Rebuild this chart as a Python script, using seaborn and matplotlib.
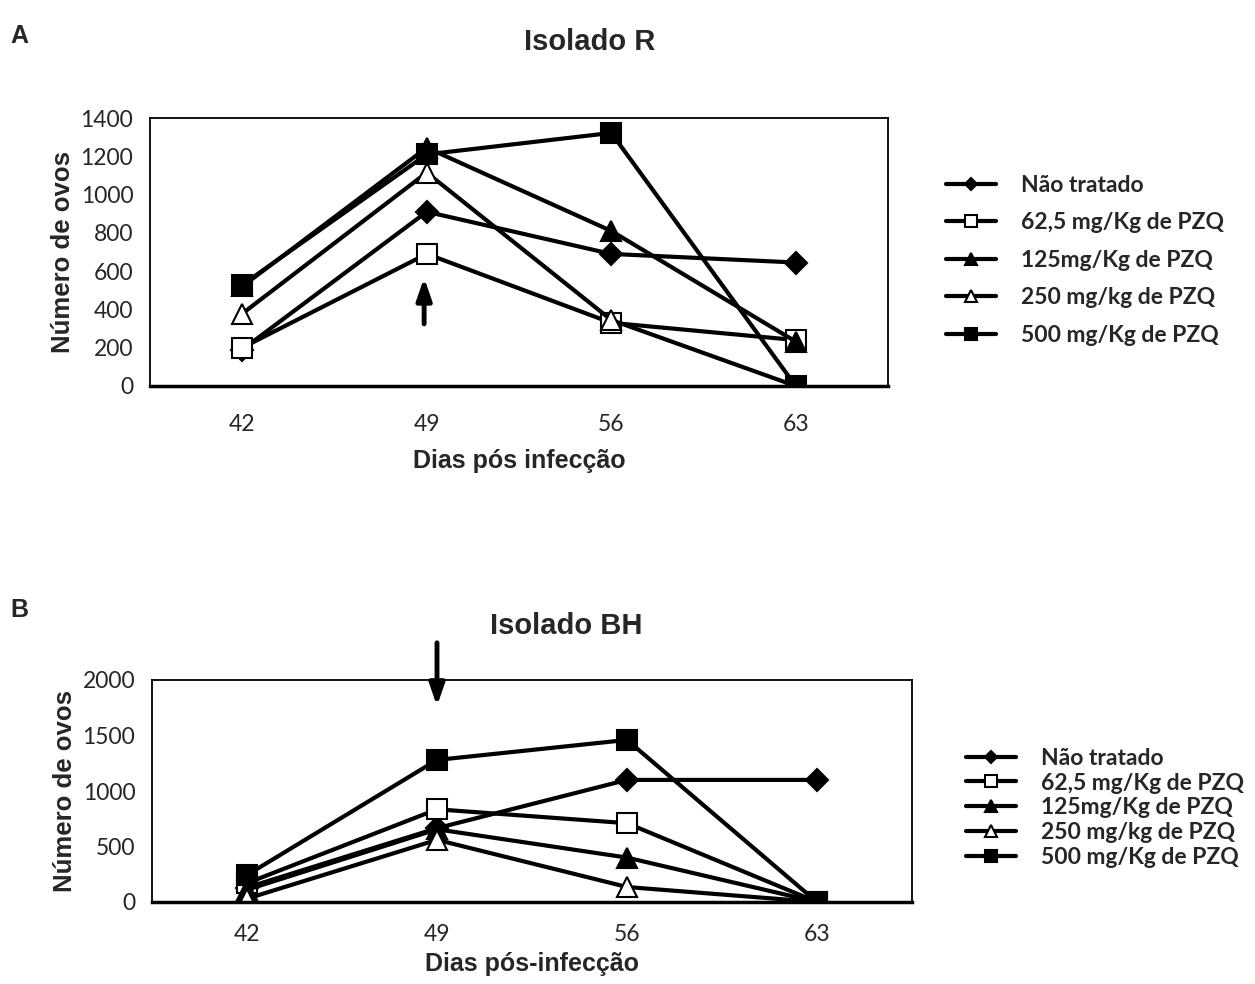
import matplotlib
matplotlib.use("Agg")
import matplotlib.pyplot as plt
import seaborn as sns

# Days after infection (categories)
days = [42, 49, 56, 63]
day_labels = ["42", "49", "56", "63"]

series_names = ["Não tratado", "62,5 mg/Kg de PZQ", "125mg/Kg de PZQ",
                "250 mg/kg de PZQ", "500 mg/Kg de PZQ"]

# Panel A - Isolado R
r_nao_tratado = [190, 910, 690, 645]
r_62_5 = [200, 690, 330, 240]
r_125 = [520, 1245, 810, 232]
r_250 = [378, 1115, 345, 0]
r_500 = [528, 1210, 1322, 0]

# Panel B - Isolado BH
bh_nao_tratado = [130, 665, 1100, 1100]
bh_62_5 = [170, 835, 710, 0]
bh_125 = [110, 655, 400, 0]
bh_250 = [30, 560, 135, 0]
bh_500 = [243, 1280, 1460, 0]

# marker, face colour, size per series
styles = [("D", "black", 11), ("s", "white", 14), ("^", "black", 14),
          ("^", "white", 14), ("s", "black", 14)]

sns.set_style("white")
plt.rcParams["font.family"] = ["Lato", "DejaVu Sans"]

ARIAL = ["Liberation Sans", "DejaVu Sans"]

fig = plt.figure(figsize=(12.55, 9.84), dpi=100)


def draw_panel(ax, data, ymax, ystep, xpad):
    for name, vals, (mk, fc, ms) in zip(series_names, data, styles):
        sns.lineplot(x=days, y=vals, ax=ax, color="black", lw=3,
                     marker=mk, markersize=ms, markerfacecolor=fc,
                     markeredgecolor="black", markeredgewidth=1.5,
                     label=name, legend=False)
    ax.set_xlim(38.5, 66.5)
    ax.set_ylim(0, ymax)
    ax.set_yticks(range(0, ymax + 1, ystep))
    # labels centred on categories, tick marks between categories
    ax.set_xticks(days)
    ax.set_xticklabels(day_labels)
    ax.set_xticks([38.5, 45.5, 52.5, 59.5, 66.5], minor=True)
    ax.tick_params(axis="x", which="major", length=0, pad=xpad, labelsize=16.5)
    ax.tick_params(axis="x", which="minor", length=7, width=1.2, direction="out")
    ax.tick_params(axis="y", length=7, width=1.2, direction="out", labelsize=16.5, pad=5)
    for side in ["top", "right", "left"]:
        ax.spines[side].set_linewidth(1.3)
        ax.spines[side].set_color("black")
    ax.spines["bottom"].set_linewidth(2.5)
    ax.spines["bottom"].set_color("black")
    ax.set_ylabel("Número de ovos", fontsize=18.5, fontweight="bold",
                  family=ARIAL, labelpad=4)


legend_font = dict(family=["Lato", "DejaVu Sans"], weight="bold", size=16.5)

# ---- Panel A ----
axA = fig.add_axes([150 / 1255, 1 - 386 / 984, 738 / 1255, 268 / 984])
draw_panel(axA, [r_nao_tratado, r_62_5, r_125, r_250, r_500], 1400, 200, 20)
axA.set_xlabel("Dias pós infecção", fontsize=18, fontweight="bold",
               family=ARIAL, labelpad=10)
axA.annotate("", xy=(48.9, 580), xytext=(48.9, 310),
             arrowprops=dict(arrowstyle="-|>,head_width=0.45,head_length=1.3",
                             lw=3.5, color="black"))
axA.legend(loc="upper left", bbox_to_anchor=(925 / 1255, 1 - 154 / 984),
           bbox_transform=fig.transFigure, frameon=False, prop=legend_font,
           handlelength=2.2, handletextpad=1.1, labelspacing=0.72, markerscale=0.6)

# ---- Panel B ----
axB = fig.add_axes([152 / 1255, 1 - 902 / 984, 760 / 1255, 222 / 984])
draw_panel(axB, [bh_nao_tratado, bh_62_5, bh_125, bh_250, bh_500], 2000, 500, 16)
axB.set_xlabel("Dias pós-infecção", fontsize=18, fontweight="bold",
               family=ARIAL, labelpad=5)
axB.annotate("", xy=(49, 1740), xytext=(49, 2360), annotation_clip=False,
             arrowprops=dict(arrowstyle="-|>,head_width=0.45,head_length=1.3",
                             lw=3.5, color="black"))
axB.legend(loc="upper left", bbox_to_anchor=(945 / 1255, 1 - 727 / 984),
           bbox_transform=fig.transFigure, frameon=False, prop=legend_font,
           handlelength=2.2, handletextpad=1.1, labelspacing=0.17, markerscale=0.6)

# titles and panel letters
fig.text(590 / 1255, 1 - 42 / 984, "Isolado R", ha="center", va="center",
         fontsize=21, fontweight="bold", family=ARIAL)
fig.text(566 / 1255, 1 - 626 / 984, "Isolado BH", ha="center", va="center",
         fontsize=21, fontweight="bold", family=ARIAL)
fig.text(10 / 1255, 1 - 36 / 984, "A", ha="left", va="center",
         fontsize=18, fontweight="bold", family=ARIAL)
fig.text(10 / 1255, 1 - 610 / 984, "B", ha="left", va="center",
         fontsize=18, fontweight="bold", family=ARIAL)

fig.savefig("out.png", dpi=100, facecolor="white")
